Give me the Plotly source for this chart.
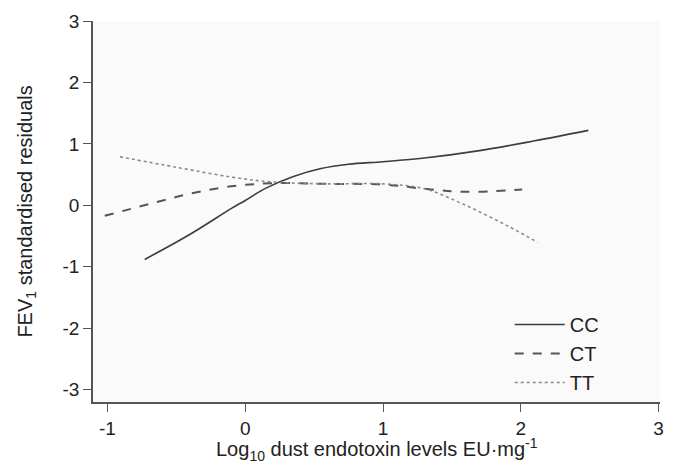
import plotly.graph_objects as go

cc_x = [-0.73, -0.4, -0.1, 0.0, 0.15, 0.35, 0.55, 0.75, 1.0, 1.3, 1.7, 2.1, 2.49]
cc_y = [-0.88, -0.47, -0.05, 0.08, 0.28, 0.47, 0.6, 0.67, 0.71, 0.77, 0.89, 1.05, 1.22]
ct_x = [-1.02, -0.7, -0.4, -0.1, 0.2, 0.6, 1.0, 1.3, 1.6, 2.01]
ct_y = [-0.17, 0.02, 0.19, 0.31, 0.36, 0.35, 0.34, 0.27, 0.22, 0.26]
tt_x = [-0.91, -0.5, -0.1, 0.2, 0.6, 1.0, 1.3, 1.6, 1.9, 2.12]
tt_y = [0.79, 0.62, 0.46, 0.38, 0.35, 0.35, 0.27, 0.0, -0.33, -0.6]

x_ticks = [-1, 0, 1, 2, 3]
x_labels = ["-1", "0", "1", "2", "3"]
y_ticks = [-3, -2, -1, 0, 1, 2, 3]
y_labels = ["-3", "-2", "-1", "0", "1", "2", "3"]

fig = go.Figure()
fig.add_trace(go.Scatter(x=cc_x, y=cc_y, mode="lines", name="CC", line=dict(color="#3c3c3c", width=1.6, shape="spline", smoothing=1.0)))
fig.add_trace(go.Scatter(x=ct_x, y=ct_y, mode="lines", name="CT", line=dict(color="#555555", width=2, dash="dash", shape="spline", smoothing=1.0)))
fig.add_trace(go.Scatter(x=tt_x, y=tt_y, mode="lines", name="TT", line=dict(color="#8a8a8a", width=1.6, dash="dot", shape="spline", smoothing=1.0)))

axis_common = dict(showgrid=False, zeroline=False, showline=True, linecolor="#555555", linewidth=1.5,
                   ticks="outside", ticklen=8, tickcolor="#555555", tickfont=dict(size=19, color="#222222"))
# page body adds an 8px margin, so the figure is sized and offset to compensate
fig.update_layout(
    width=669, height=459,
    margin=dict(l=85, r=17, t=13, b=65, autoexpand=False),
    paper_bgcolor="white", plot_bgcolor="#fafafa",
    font=dict(family="Liberation Sans, Arial, sans-serif", color="#222222"),
    xaxis=dict(range=[-1.105, 3.01], tickvals=x_ticks, ticktext=x_labels, **axis_common),
    yaxis=dict(range=[-3.2, 3.0], tickvals=y_ticks, ticktext=y_labels, **axis_common),
    legend=dict(x=0.735, y=0.0, xanchor="left", yanchor="bottom", bgcolor="rgba(0,0,0,0)",
                font=dict(size=20, color="#222222"), tracegroupgap=0, itemwidth=50),
    showlegend=True,
    annotations=[
        dict(text="Log<sub>10</sub> dust endotoxin levels EU·mg<sup>-1</sup>", xref="paper", yref="paper",
             x=0.5, y=0, xanchor="center", yanchor="top", yshift=-31, showarrow=False,
             font=dict(size=20, color="#222222")),
        dict(text="FEV<sub>1</sub> standardised residuals", xref="paper", yref="paper",
             x=-0.118, y=0.5, xanchor="center", yanchor="middle", textangle=-90, showarrow=False,
             font=dict(size=20, color="#222222")),
    ],
)
fig.write_html("out.html")
